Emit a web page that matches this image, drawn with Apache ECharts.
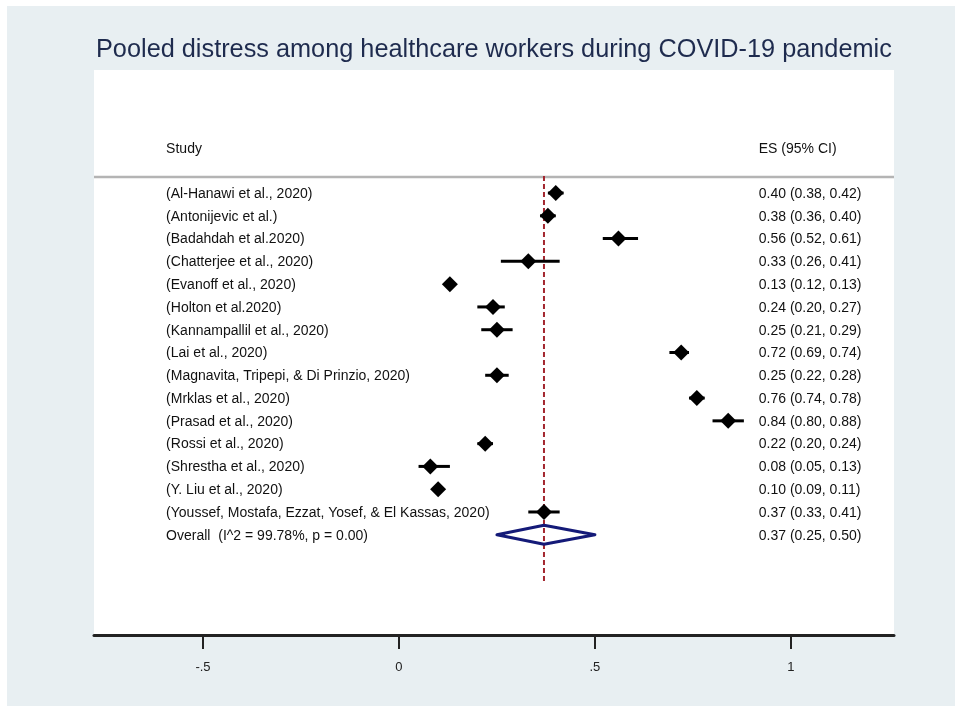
<!DOCTYPE html>
<html>
<head>
<meta charset="utf-8">
<script src="https://cdn.jsdelivr.net/npm/echarts@6/dist/echarts.min.js"></script>
<style>
  html, body { margin: 0; padding: 0; background: #ffffff; }
  #panel { position: absolute; left: 7px; top: 6px; width: 948px; height: 700px; background: #e8eff2; }
  #chart { position: absolute; left: 0; top: 0; width: 955px; height: 706px; }
</style>
</head>
<body>
<div id="panel"></div>
<div id="chart"></div>
<script>
// Study-level estimates (proportion with distress) and 95% CIs
const studies = [
  '(Al-Hanawi et al., 2020)',
  '(Antonijevic et al.)',
  '(Badahdah et al.2020)',
  '(Chatterjee et al., 2020)',
  '(Evanoff et al., 2020)',
  '(Holton et al.2020)',
  '(Kannampallil et al., 2020)',
  '(Lai et al., 2020)',
  '(Magnavita, Tripepi, & Di Prinzio, 2020)',
  '(Mrklas et al., 2020)',
  '(Prasad et al., 2020)',
  '(Rossi et al., 2020)',
  '(Shrestha et al., 2020)',
  '(Y. Liu et al., 2020)',
  '(Youssef, Mostafa, Ezzat, Yosef, & El Kassas, 2020)'
];
const es    = [0.40, 0.38, 0.56, 0.33, 0.13, 0.24, 0.25, 0.72, 0.25, 0.76, 0.84, 0.22, 0.08, 0.10, 0.37];
const ciLow = [0.38, 0.36, 0.52, 0.26, 0.12, 0.20, 0.21, 0.69, 0.22, 0.74, 0.80, 0.20, 0.05, 0.09, 0.33];
const ciHigh= [0.42, 0.40, 0.61, 0.41, 0.13, 0.27, 0.29, 0.74, 0.28, 0.78, 0.88, 0.24, 0.13, 0.11, 0.41];

// Pooled random-effects estimate
const overallLabel = 'Overall  (I^2 = 99.78%, p = 0.00)';
const overallES = [0.37];
const overallLow = [0.25];
const overallHigh = [0.50];

const xTicks = [-0.5, 0, 0.5, 1];
const xTickLabels = ['-.5', '0', '.5', '1'];
const headers = ['Study', 'ES (95% CI)'];

// layout constants (axis units)
const X_MIN = -0.778, X_MAX = 1.263;
const Y_MIN = -5.4, Y_MAX = 19.4;
const STUDY_X = -0.594, ES_X = 0.918;
const HEADER_ROW = -1.95, RULE_ROW = -0.7;
const REF_TOP = -0.75, REF_BOTTOM = 17.1;

const fmt = v => v.toFixed(2);
const nRows = studies.length;
const FONT = '"Liberation Sans", Arial, sans-serif';
const textFont = '14px ' + FONT;

const labelRows = [];
studies.forEach((s, i) => labelRows.push([i, s, fmt(es[i]) + ' (' + fmt(ciLow[i]) + ', ' + fmt(ciHigh[i]) + ')']));
labelRows.push([nRows, overallLabel, fmt(overallES[0]) + ' (' + fmt(overallLow[0]) + ', ' + fmt(overallHigh[0]) + ')']);
labelRows.push([HEADER_ROW, headers[0], headers[1]]);

const chart = echarts.init(document.getElementById('chart'), null, { renderer: 'canvas' });

chart.setOption({
  animation: false,
  backgroundColor: 'transparent',
  title: {
    text: 'Pooled distress among healthcare workers during COVID-19 pandemic',
    left: 91, top: 33,
    textStyle: { fontFamily: FONT, fontSize: 25.3, fontWeight: 'normal', color: '#1e2b4e' }
  },
  grid: {
    left: 94, right: 61, top: 70, bottom: 71,
    show: true, backgroundColor: '#ffffff', borderWidth: 0
  },
  xAxis: {
    type: 'value', min: X_MIN, max: X_MAX,
    splitLine: { show: false },
    axisLine: { show: true, onZero: false, lineStyle: { color: '#222', width: 3 } },
    axisTick: { show: true, customValues: xTicks, length: 14, lineStyle: { color: '#222', width: 2 } },
    axisLabel: {
      customValues: xTicks, margin: 26,
      fontFamily: FONT, fontSize: 13, color: '#222',
      formatter: v => {
        const k = xTicks.findIndex(t => Math.abs(t - v) < 1e-9);
        return k >= 0 ? xTickLabels[k] : '';
      }
    }
  },
  yAxis: {
    type: 'value', inverse: true, min: Y_MIN, max: Y_MAX, show: false
  },
  series: [
    // rule under the header
    {
      type: 'line', silent: true, symbol: 'none', z: 1,
      data: [[X_MIN, RULE_ROW], [X_MAX, RULE_ROW]],
      lineStyle: { color: '#b4b4b4', width: 2.5 }
    },
    // dashed line at pooled estimate
    {
      type: 'line', silent: true, symbol: 'none', z: 2,
      data: [[overallES[0], REF_TOP], [overallES[0], REF_BOTTOM]],
      lineStyle: { color: '#a3262f', width: 2, type: [5, 3] }
    },
    // confidence interval whiskers
    {
      type: 'custom', z: 3,
      data: studies.map((s, i) => [ciLow[i], ciHigh[i], i]),
      encode: { x: [0, 1], y: 2 },
      renderItem: (params, api) => {
        const a = api.coord([api.value(0), api.value(2)]);
        const b = api.coord([api.value(1), api.value(2)]);
        return {
          type: 'line',
          shape: { x1: a[0], y1: a[1], x2: b[0], y2: b[1] },
          style: { stroke: '#000', lineWidth: 3 }
        };
      }
    },
    // point estimates
    {
      type: 'scatter', z: 4,
      symbol: 'diamond', symbolSize: [16, 16],
      data: es.map((v, i) => [v, i]),
      itemStyle: { color: '#000', opacity: 1 }
    },
    // pooled estimate diamond
    {
      type: 'custom', z: 4,
      data: [[overallLow[0], overallES[0], overallHigh[0], nRows]],
      encode: { x: [0, 1, 2], y: 3 },
      renderItem: (params, api) => {
        const r = api.value(3);
        const l = api.coord([api.value(0), r]);
        const c = api.coord([api.value(1), r]);
        const h = api.coord([api.value(2), r]);
        const hh = 9.5;
        return {
          type: 'polygon',
          shape: { points: [[l[0], l[1]], [c[0], c[1] - hh], [h[0], h[1]], [c[0], c[1] + hh]] },
          style: { fill: 'rgba(255,255,255,0)', stroke: '#141a78', lineWidth: 3, lineJoin: 'round' }
        };
      }
    },
    // study labels and estimate text
    {
      type: 'custom', z: 5, silent: true,
      data: labelRows,
      encode: { y: 0 },
      renderItem: (params, api) => {
        const r = api.value(0);
        const row = labelRows[params.dataIndex];
        const p1 = api.coord([STUDY_X, r]);
        const p2 = api.coord([ES_X, r]);
        return {
          type: 'group',
          children: [
            { type: 'text', x: p1[0], y: p1[1] + 1,
              style: { text: row[1], font: textFont, fill: '#111', textAlign: 'left', textVerticalAlign: 'middle' } },
            { type: 'text', x: p2[0], y: p2[1] + 1,
              style: { text: row[2], font: textFont, fill: '#111', textAlign: 'left', textVerticalAlign: 'middle' } }
          ]
        };
      }
    }
  ]
});
</script>
</body>
</html>
